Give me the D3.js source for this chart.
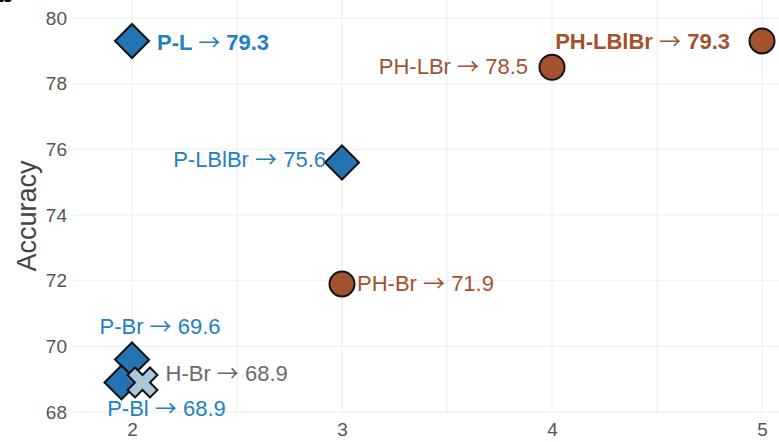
<!DOCTYPE html>
<html>
<head>
<meta charset="utf-8">
<script src="https://cdn.jsdelivr.net/npm/d3@7"></script>
<style>
  html, body { margin: 0; padding: 0; background: #fff; }
  svg { display: block; }
</style>
</head>
<body>
<svg id="chart" width="779" height="442"></svg>
<script>
// Model variants: number of components vs. accuracy
const names    = ["P-L", "P-LBlBr", "P-Br", "P-Bl", "H-Br", "PH-LBr", "PH-LBlBr", "PH-Br"];
const xValues  = [2, 3, 2, 1.95, 2.05, 4, 5, 3];
const accuracy = [79.3, 75.6, 69.6, 68.9, 68.9, 78.5, 79.3, 71.9];
const families = ["P", "P", "P", "P", "H", "PH", "PH", "PH"];
const emphasis = [true, false, false, false, false, false, true, false];

const xTicks = [2, 3, 4, 5];
const xGrid  = [2, 2.5, 3, 3.5, 4, 4.5, 5];
const yTicks = [68, 70, 72, 74, 76, 78, 80];

// label placement relative to each marker: anchor, dx, dy (pixels)
const placement = {
  "P-L":      ["start", 25, 1],
  "P-LBlBr":  ["end", -16, -3],
  "P-Br":     ["middle", 28, -33],
  "P-Bl":     ["middle", 45, 26],
  "H-Br":     ["start", 23, -9],
  "PH-LBr":   ["end", -24, -1],
  "PH-LBlBr": ["end", -32, 0],
  "PH-Br":    ["start", 15, -1]
};

const plot = { left: 71, right: 800, top: -10, bottom: 413 };

const svg = d3.select("#chart");

const x = d3.scaleLinear().domain([2, 5]).range([132, 762]);
const y = d3.scaleLinear().domain([68, 80]).range([412, 18]);

const fill  = { P: "#2473b3", H: "#a9c8dc", PH: "#a2532e" };
const textC = { P: "#1f80c2", H: "#6b6b6b", PH: "#a2532e" };
const sans = "'Liberation Sans', Arial, sans-serif";

// grid
const grid = svg.append("g");
grid.selectAll("line.v").data(xGrid).join("line")
  .attr("x1", d => x(d)).attr("x2", d => x(d))
  .attr("y1", plot.top).attr("y2", plot.bottom)
  .attr("stroke", "#ececec").attr("stroke-width", 1);
grid.selectAll("line.h").data(yTicks).join("line")
  .attr("x1", plot.left).attr("x2", plot.right)
  .attr("y1", d => y(d)).attr("y2", d => y(d))
  .attr("stroke", "#ececec").attr("stroke-width", 1);

// axes (labels only, no domain line)
const yAxis = svg.append("g")
  .attr("transform", `translate(${plot.left},0)`)
  .call(d3.axisLeft(y).tickValues(yTicks).tickSize(0).tickPadding(4).tickFormat(d3.format("d")));
yAxis.select(".domain").remove();
yAxis.selectAll("text")
  .attr("font-family", sans).attr("font-size", 19).attr("fill", "#555");

const xAxis = svg.append("g")
  .attr("transform", `translate(0,${plot.bottom})`)
  .call(d3.axisBottom(x).tickValues(xTicks).tickSize(0).tickPadding(10).tickFormat(d3.format("d")));
xAxis.select(".domain").remove();
xAxis.selectAll("text")
  .attr("font-family", sans).attr("font-size", 19).attr("fill", "#555");

svg.append("text")
  .attr("transform", `translate(36,216) rotate(-90)`)
  .attr("text-anchor", "middle")
  .attr("font-family", sans)
  .attr("font-size", 27).attr("fill", "#444")
  .text("Accuracy");

// panel letter, mostly above the visible area
svg.append("text")
  .attr("x", -2).attr("y", 2)
  .attr("font-family", sans)
  .attr("font-weight", "bold").attr("font-size", 26).attr("fill", "#000")
  .text("b");

// markers
const diamond = h => `M0,${-h}L${h},0L0,${h}L${-h},0Z`;
const crossPath = d3.symbol().type(d3.symbolCross).size(560)();

const data = names.map((n, i) => ({
  name: n, x: xValues[i], y: accuracy[i], fam: families[i], bold: emphasis[i]
}));

const marks = svg.append("g");
data.forEach(d => {
  const g = marks.append("g").attr("transform", `translate(${x(d.x)},${y(d.y)})`);
  if (d.fam === "P") {
    g.append("path").attr("d", diamond(17))
      .attr("fill", fill.P).attr("stroke", "#111").attr("stroke-width", 2);
  } else if (d.fam === "H") {
    g.append("path").attr("d", crossPath).attr("transform", "rotate(45)")
      .attr("fill", fill.H).attr("stroke", "#111").attr("stroke-width", 2);
  } else {
    g.append("circle").attr("r", 12.5)
      .attr("fill", fill.PH).attr("stroke", "#111").attr("stroke-width", 2);
  }
});

// value labels: "name → value", the arrow set in a wide thin glyph
const labels = svg.append("g")
  .attr("font-family", sans)
  .attr("font-size", 22);
data.forEach(d => {
  const [anchor, dx, dy] = placement[d.name];
  const t = labels.append("text")
    .attr("x", x(d.x) + dx).attr("y", y(d.y) + dy)
    .attr("dy", "0.36em")
    .attr("text-anchor", anchor)
    .attr("font-weight", d.bold ? "bold" : "normal")
    .attr("fill", textC[d.fam]);
  t.append("tspan").text(`${d.name} `);
  t.append("tspan")
    .attr("font-family", "'Noto Sans CJK JP', 'DejaVu Sans', sans-serif")
    .attr("font-weight", "normal")
    .text("\u2192");
  t.append("tspan").text(` ${d.y.toFixed(1)}`);
});
</script>
</body>
</html>
